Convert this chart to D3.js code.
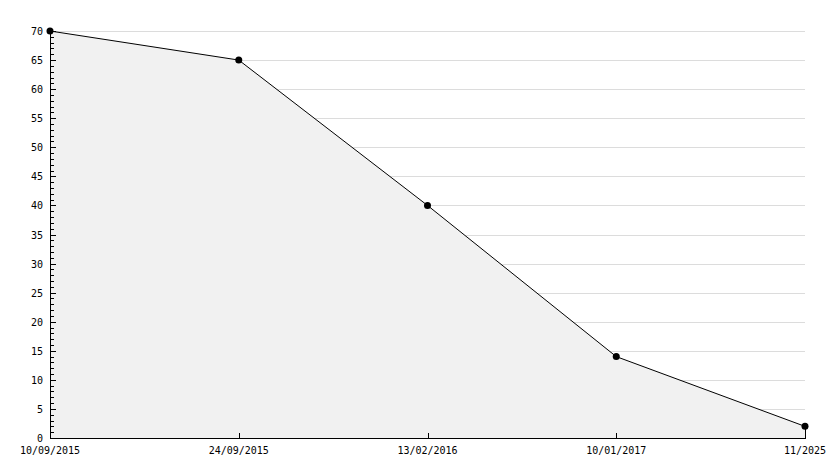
<!DOCTYPE html>
<html>
<head>
<meta charset="utf-8">
<script src="https://cdn.jsdelivr.net/npm/d3@7"></script>
<style>
  body { margin: 0; background: #fff; }
  text { font-family: "DejaVu Sans Mono", monospace; font-size: 10px; fill: #000; }
</style>
</head>
<body>
<div id="chart"></div>
<script>
// data
const dates = ["10/09/2015", "24/09/2015", "13/02/2016", "10/01/2017", "11/2025"];
const values = [70, 65, 40, 14, 2];
const yTicks = [0, 5, 10, 15, 20, 25, 30, 35, 40, 45, 50, 55, 60, 65, 70];

drawChart();

function drawChart() {
  const width = 834, height = 468;
  const left = 50, right = 805, top = 31, bottom = 438;

  const svg = d3.select("#chart").append("svg")
      .attr("width", width)
      .attr("height", height);

  const x = d3.scalePoint()
      .domain(dates)
      .range([left, right]);

  const y = d3.scaleLinear()
      .domain([0, 70])
      .range([bottom, top]);

  const pts = dates.map((d, i) => ({ date: d, value: values[i] }));

  // grid lines
  svg.append("g")
      .selectAll("line")
      .data(yTicks.filter((t) => t > 0))
      .enter().append("line")
      .attr("x1", left).attr("x2", right)
      .attr("y1", (d) => Math.round(y(d)) + 0.5)
      .attr("y2", (d) => Math.round(y(d)) + 0.5)
      .attr("stroke", "#dcdcdc");

  // filled area under the line
  const area = d3.area()
      .x((d) => x(d.date))
      .y0(bottom)
      .y1((d) => y(d.value));

  svg.append("path")
      .datum(pts)
      .attr("d", area)
      .attr("fill", "#f1f1f1");

  const line = d3.line()
      .x((d) => x(d.date))
      .y((d) => y(d.value));

  svg.append("path")
      .datum(pts)
      .attr("d", line)
      .attr("fill", "none")
      .attr("stroke", "#000")
      .attr("stroke-width", 1);

  // right edge of the area
  svg.append("line")
      .attr("x1", right + 0.5).attr("x2", right + 0.5)
      .attr("y1", y(values[values.length - 1])).attr("y2", bottom)
      .attr("stroke", "#000");

  // y axis: minor ticks every 1, labels every 5
  const minor = d3.range(0, 71);
  svg.append("g")
      .selectAll("line")
      .data(minor)
      .enter().append("line")
      .attr("x1", left).attr("x2", (d) => d % 5 === 0 ? left + 6 : left + 4)
      .attr("y1", (d) => Math.round(y(d)) + 0.5)
      .attr("y2", (d) => Math.round(y(d)) + 0.5)
      .attr("stroke", "#000");

  svg.append("g")
      .selectAll("text")
      .data(yTicks)
      .enter().append("text")
      .attr("x", left - 7)
      .attr("y", (d) => y(d) + (d === 0 ? 4 : 4))
      .attr("text-anchor", "end")
      .text((d) => d);

  svg.append("line")
      .attr("x1", left + 0.5).attr("x2", left + 0.5)
      .attr("y1", top).attr("y2", bottom + 1)
      .attr("stroke", "#000");

  // x axis
  svg.append("line")
      .attr("x1", left).attr("x2", right + 1)
      .attr("y1", bottom + 0.5).attr("y2", bottom + 0.5)
      .attr("stroke", "#000");

  svg.append("g")
      .selectAll("line")
      .data(dates)
      .enter().append("line")
      .attr("x1", (d) => Math.round(x(d)) + 0.5)
      .attr("x2", (d) => Math.round(x(d)) + 0.5)
      .attr("y1", bottom - 5).attr("y2", bottom)
      .attr("stroke", "#000");

  svg.append("g")
      .selectAll("text")
      .data(dates)
      .enter().append("text")
      .attr("x", (d) => x(d))
      .attr("y", bottom + 16)
      .attr("text-anchor", "middle")
      .text((d) => d);

  // point markers
  svg.append("g")
      .selectAll("circle")
      .data(pts)
      .enter().append("circle")
      .attr("cx", (d) => x(d.date))
      .attr("cy", (d) => y(d.value))
      .attr("r", 3.5)
      .attr("fill", "#000");
}
</script>
</body>
</html>
